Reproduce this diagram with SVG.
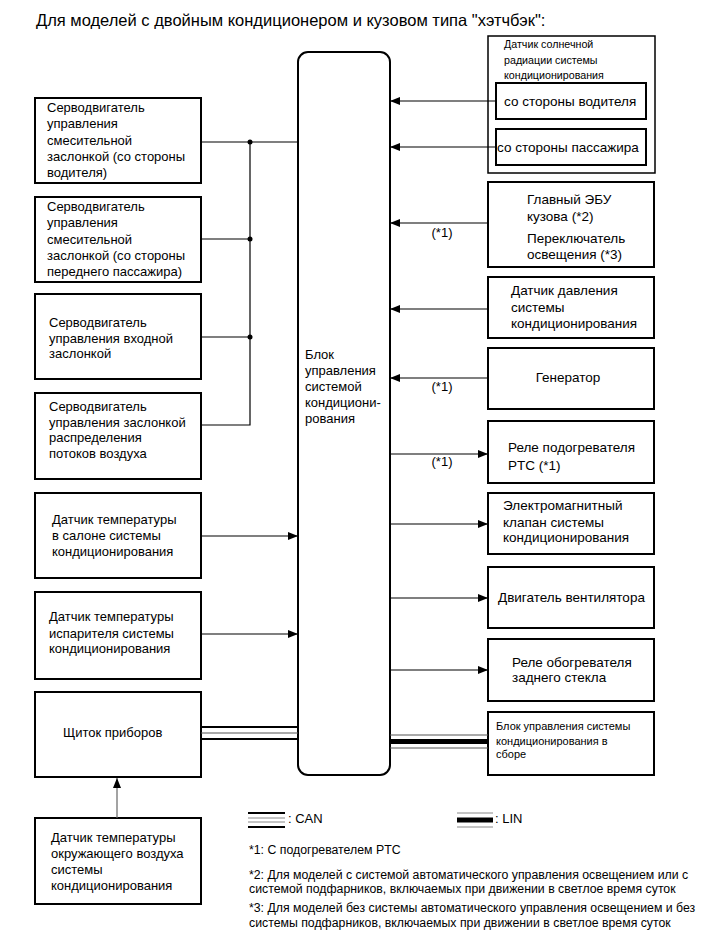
<svg xmlns="http://www.w3.org/2000/svg" width="705" height="951" viewBox="0 0 705 951">
<style>
text{font-family:"Liberation Sans",Arial,sans-serif;fill:#000}
.t{font-size:13px}
.r{font-size:13.5px}
.s{font-size:10.7px}
.a{font-size:11px}
.f{font-size:12.3px}
.box{fill:#fff;stroke:#000;stroke-width:2}
.ln{stroke:#000;stroke-width:1.2;fill:none}
.ar{stroke:#000;stroke-width:1.2;fill:none;marker-end:url(#ah)}
</style>
<defs>
<marker id="ah" viewBox="0 0 10 8" refX="10" refY="4" markerWidth="10" markerHeight="8" markerUnits="userSpaceOnUse" orient="auto">
<path d="M0,0 L10,4 L0,8 z" fill="#000"/>
</marker>
</defs>
<rect width="705" height="951" fill="#fff"/>
<text x="36" y="26" style="font-size:16.5px">Для моделей с двойным кондиционером и кузовом типа "хэтчбэк":</text>

<g id="ecu">
<rect class="box" x="298" y="52" width="92" height="723" rx="10"/>
<text class="t" x="305" y="359">Блок</text>
<text class="t" x="305" y="375">управления</text>
<text class="t" x="305" y="391">системой</text>
<text class="t" x="305" y="407">кондициони-</text>
<text class="t" x="305" y="423">рования</text>
</g>

<g id="servo-driver">
<rect class="box" x="35" y="98" width="166" height="85"/>
<text class="t" x="47" y="112">Серводвигатель</text>
<text class="t" x="47" y="128">управления</text>
<text class="t" x="47" y="145">смесительной</text>
<text class="t" x="47" y="161">заслонкой (со стороны</text>
<text class="t" x="47" y="177">водителя)</text>
</g>
<g id="servo-passenger">
<rect class="box" x="35" y="197" width="166" height="85"/>
<text class="t" x="47" y="211">Серводвигатель</text>
<text class="t" x="47" y="227">управления</text>
<text class="t" x="47" y="244">смесительной</text>
<text class="t" x="47" y="260">заслонкой (со стороны</text>
<text class="t" x="47" y="276">переднего пассажира)</text>
</g>
<g id="servo-intake">
<rect class="box" x="35" y="294" width="166" height="85"/>
<text class="t" x="49" y="327">Серводвигатель</text>
<text class="t" x="49" y="343">управления входной</text>
<text class="t" x="49" y="358">заслонкой</text>
</g>
<g id="servo-distribution">
<rect class="box" x="35" y="393" width="166" height="86"/>
<text class="t" x="49" y="411">Серводвигатель</text>
<text class="t" x="49" y="427">управления заслонкой</text>
<text class="t" x="49" y="442">распределения</text>
<text class="t" x="49" y="458">потоков воздуха</text>
</g>
<g id="room-temp">
<rect class="box" x="35" y="493" width="166" height="85"/>
<text class="t" x="52" y="524">Датчик температуры</text>
<text class="t" x="52" y="540">в салоне системы</text>
<text class="t" x="52" y="556">кондиционирования</text>
</g>
<g id="evap-temp">
<rect class="box" x="35" y="592" width="166" height="87"/>
<text class="t" x="49" y="621">Датчик температуры</text>
<text class="t" x="49" y="638">испарителя системы</text>
<text class="t" x="49" y="653">кондиционирования</text>
</g>
<g id="combination-meter">
<rect class="box" x="35" y="692" width="166" height="85"/>
<text class="t" x="63" y="737">Щиток приборов</text>
</g>
<g id="ambient-temp">
<rect class="box" x="35" y="818" width="166" height="86"/>
<text class="t" x="51" y="842">Датчик температуры</text>
<text class="t" x="51" y="858">окружающего воздуха</text>
<text class="t" x="51" y="874">системы</text>
<text class="t" x="51" y="890">кондиционирования</text>
</g>

<g id="solar-sensor">
<rect x="488" y="36" width="167" height="137" fill="#fff" stroke="#000" stroke-width="1.5"/>
<text class="s" x="504" y="48">Датчик солнечной</text>
<text class="s" x="504" y="64">радиации системы</text>
<text class="s" x="504" y="79">кондиционирования</text>
<g id="solar-driver">
<rect class="box" x="496" y="83" width="150" height="36"/>
<text class="r" x="504" y="106">со стороны водителя</text>
</g>
<g id="solar-passenger">
<rect class="box" x="496" y="129" width="150" height="36"/>
<text class="r" x="497" y="152">со стороны пассажира</text>
</g>
</g>
<g id="body-ecu">
<rect class="box" x="488" y="182" width="166" height="85"/>
<text class="r" x="527" y="204">Главный ЭБУ</text>
<text class="r" x="527" y="221">кузова (*2)</text>
<text class="r" x="527" y="243">Переключатель</text>
<text class="r" x="527" y="259">освещения (*3)</text>
</g>
<g id="pressure-sensor">
<rect class="box" x="488" y="277" width="166" height="61"/>
<text class="r" x="511" y="295">Датчик давления</text>
<text class="r" x="511" y="312">системы</text>
<text class="r" x="511" y="328">кондиционирования</text>
</g>
<g id="generator">
<rect class="box" x="488" y="348" width="166" height="61"/>
<text class="r" x="568" y="382" text-anchor="middle">Генератор</text>
</g>
<g id="ptc-relay">
<rect class="box" x="488" y="421" width="166" height="62"/>
<text class="r" x="508" y="452">Реле подогревателя</text>
<text class="r" x="508" y="470">PTC (*1)</text>
</g>
<g id="solenoid">
<rect class="box" x="488" y="493" width="166" height="61"/>
<text class="r" x="503" y="510">Электромагнитный</text>
<text class="r" x="503" y="527">клапан системы</text>
<text class="r" x="503" y="542">кондиционирования</text>
</g>
<g id="blower">
<rect class="box" x="488" y="567" width="166" height="61"/>
<text class="r" x="498" y="602">Двигатель вентилятора</text>
</g>
<g id="rear-defogger">
<rect class="box" x="488" y="639" width="166" height="62"/>
<text class="r" x="512" y="667">Реле обогревателя</text>
<text class="r" x="512" y="682">заднего стекла</text>
</g>
<g id="ac-assembly">
<rect class="box" x="488" y="712" width="166" height="63"/>
<text class="a" x="496" y="730">Блок управления системы</text>
<text class="a" x="496" y="745">кондиционирования в</text>
<text class="a" x="496" y="758">сборе</text>
</g>

<g id="connectors">
<path class="ln" d="M201,142 H298 M201,239 H250 M201,337 H250 M201,425 H250 V142"/>
<circle cx="250" cy="142" r="2.5"/>
<circle cx="250" cy="239" r="2.5"/>
<circle cx="250" cy="337" r="2.5"/>
<path class="ar" d="M201,536 H298"/>
<path class="ar" d="M201,634 H298"/>
<path d="M201,727 H298 M201,739 H298" stroke="#000" stroke-width="2"/>
<path d="M201,733 H298" stroke="#555" stroke-width="1"/>
<path d="M117,818 V778" stroke="#666" stroke-width="1.2" marker-end="url(#ah)"/>
<path class="ar" d="M496,101 H390"/>
<path class="ar" d="M496,147 H390"/>
<path class="ar" d="M488,223 H390"/>
<path class="ar" d="M488,309 H390"/>
<path class="ar" d="M488,378 H390"/>
<path class="ar" d="M390,454 H488"/>
<path class="ar" d="M390,524 H488"/>
<path class="ar" d="M390,598 H488"/>
<path class="ar" d="M390,670 H488"/>
<path d="M390,735 H488 M390,748 H488" stroke="#555" stroke-width="1"/>
<path d="M390,741.5 H488" stroke="#000" stroke-width="5"/>
<text class="t" x="442" y="237" text-anchor="middle">(*1)</text>
<text class="t" x="442" y="391" text-anchor="middle">(*1)</text>
<text class="t" x="442" y="466" text-anchor="middle">(*1)</text>
</g>

<g id="legend">
<path d="M248,813 H285 M248,827 H285" stroke="#000" stroke-width="2"/>
<path d="M248,818 H285 M248,822 H285" stroke="#888" stroke-width="1"/>
<text class="t" x="288" y="823">: CAN</text>
<path d="M457,813 H493 M457,827 H493" stroke="#888" stroke-width="1"/>
<path d="M457,820 H493" stroke="#000" stroke-width="5"/>
<text class="t" x="495" y="823">: LIN</text>
<text class="f" x="249" y="854">*1: С подогревателем PTC</text>
<text class="f" x="249" y="879">*2: Для моделей с системой автоматического управления освещением или с</text>
<text class="f" x="249" y="893">системой подфарников, включаемых при движении в светлое время суток</text>
<text class="f" x="249" y="912">*3: Для моделей без системы автоматического управления освещением и без</text>
<text class="f" x="249" y="927">системы подфарников, включаемых при движении в светлое время суток</text>
</g>
</svg>
